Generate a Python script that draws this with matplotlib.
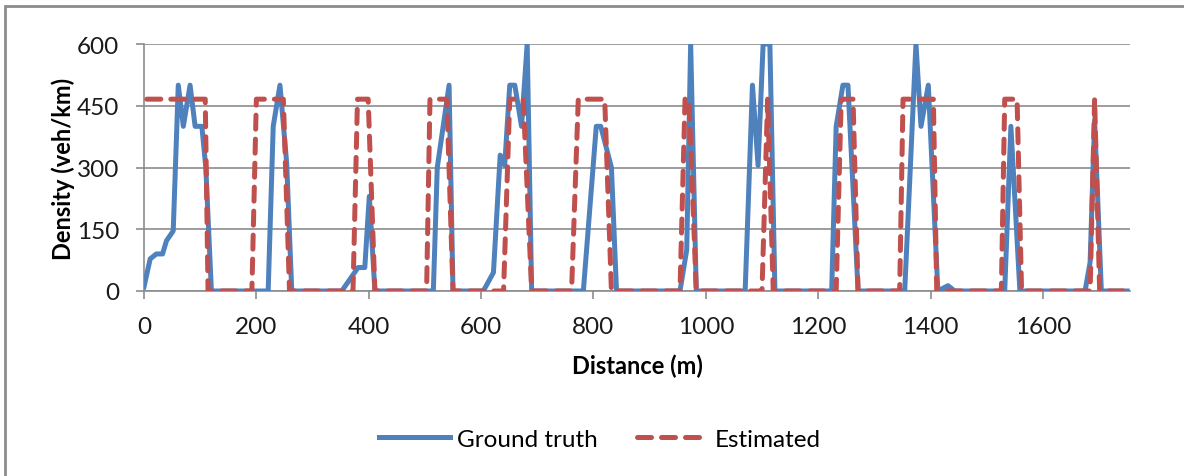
import matplotlib
matplotlib.use("Agg")
import matplotlib.pyplot as plt
from matplotlib.patches import Rectangle

# ground truth density along the road (m, veh/km)
gt_x = [0, 11, 22, 33, 40, 52, 61, 70, 82, 91, 103, 110, 120,
        221, 230, 242, 254, 263,
        352, 381, 393, 401, 411,
        515, 522, 543, 550,
        604, 622, 634, 642, 651, 660, 672, 682, 690,
        782, 805, 813, 832, 841,
        954, 966, 973, 983,
        1070, 1083, 1093, 1102, 1114, 1123,
        1224, 1232, 1244, 1253, 1271,
        1354, 1374, 1383, 1396, 1413, 1431, 1443,
        1532, 1543, 1559,
        1675, 1684, 1692, 1704, 1750]
gt_y = [10, 78, 90, 90, 122, 146, 500, 400, 500, 400, 400, 300, 0,
        0, 400, 500, 310, 0,
        0, 57, 57, 230, 0,
        0, 300, 500, 0,
        0, 45, 330, 305, 500, 500, 400, 600, 0,
        0, 400, 400, 300, 0,
        0, 100, 600, 0,
        0, 500, 305, 600, 600, 0,
        0, 400, 500, 500, 0,
        0, 600, 400, 500, 0, 13, 0,
        0, 400, 0,
        0, 70, 415, 0, 0]

# estimated density
est_x = [5, 109, 114, 192, 200, 248, 259,
         372, 380, 399, 411,
         503, 509, 539, 550,
         640, 651, 675, 690,
         761, 773, 820, 832,
         954, 963, 970, 983,
         1100, 1110, 1120,
         1232, 1241, 1262, 1271,
         1345, 1351, 1405, 1411,
         1526, 1532, 1554, 1562,
         1684, 1692, 1701, 1750]
est_y = [466, 466, 0, 0, 466, 466, 0,
         0, 466, 466, 0,
         0, 466, 466, 0,
         0, 466, 466, 0,
         0, 466, 466, 0,
         0, 466, 466, 0,
         0, 466, 0,
         0, 466, 466, 0,
         0, 466, 466, 0,
         0, 466, 466, 0,
         0, 466, 0, 0]

plt.rcParams['font.family'] = ['Lato', 'DejaVu Sans']

fig = plt.figure(figsize=(11.84, 4.77), dpi=100)
ax = fig.add_axes([144/1184, 1-292/477, (1130-144)/1184, (292-45)/477])

ax.plot(gt_x, gt_y, color='#4F81BD', lw=3.6, label='Ground truth', zorder=3)
ax.plot(est_x, est_y, color='#C0504D', lw=3.6, dashes=(2.8, 2.0),
        dash_capstyle='round', label='Estimated', zorder=4)

ax.set_xlim(0, 1755)
ax.set_ylim(0, 600)
ax.set_yticks([0, 150, 300, 450, 600])
ax.set_xticks(range(0, 1601, 200))
ax.grid(axis='y', color='#8c8c8c', lw=1.2)
ax.set_axisbelow(True)
for s in ['top', 'right']:
    ax.spines[s].set_visible(False)
for s in ['left', 'bottom']:
    ax.spines[s].set_color('#8c8c8c')
    ax.spines[s].set_linewidth(1.2)
ax.tick_params(axis='both', color='#8c8c8c', length=6, width=1.2,
               labelsize=17.5, labelcolor='#1a1a1a')
ax.tick_params(axis='x', pad=12)
ax.tick_params(axis='y', pad=12)

ax.set_xlabel('Distance (m)', fontsize=17, fontweight='bold', labelpad=12)
ax.set_ylabel('Density (veh/km)', fontsize=17, fontweight='bold', labelpad=1)

fig.legend(loc='center', bbox_to_anchor=(600/1184, 1-440/477), ncol=2,
           frameon=False, fontsize=17.5, handlelength=2.9, columnspacing=1.6,
           handletextpad=0.3)

fig.patches.append(Rectangle((5/1184, -0.1), 1.5, 1-7/477+0.1,
                             transform=fig.transFigure, fill=False,
                             edgecolor='#8c8c8c', lw=2))

fig.savefig('out.png', dpi=100)
